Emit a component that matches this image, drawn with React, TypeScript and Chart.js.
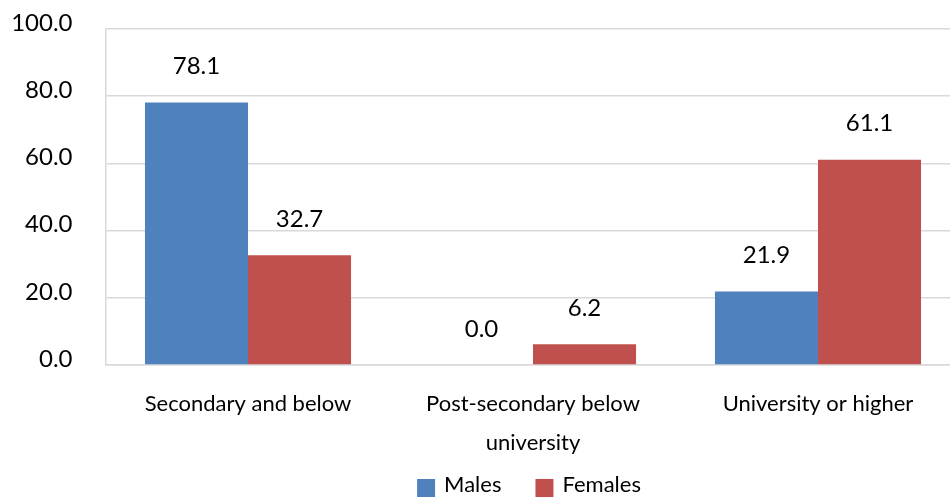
import React, { useEffect, useRef } from 'react';
import { Chart, registerables } from 'chart.js';

Chart.register(...registerables);

const categories: string[][] = [
  ['Secondary and below'],
  ['Post-secondary below', 'university'],
  ['University or higher'],
];
const seriesNames = ['Males', 'Females'];
const males = [78.1, 0.0, 21.9];
const females = [32.7, 6.2, 61.1];
const yMin = 0;
const yMax = 100;
const yStep = 20;

const FONT = 'Lato, "Noto Sans", sans-serif';
const BLUE = '#4F81BD';
const RED = '#C0504D';
const GRID = '#d9d9d9';

const valueLabels = {
  id: 'valueLabels',
  afterDatasetsDraw(chart: any) {
    const ctx = chart.ctx;
    ctx.save();
    ctx.font = `24px ${FONT}`;
    ctx.fillStyle = '#000';
    ctx.textAlign = 'center';
    ctx.textBaseline = 'middle';
    chart.data.datasets.forEach((ds: any, i: number) => {
      const meta = chart.getDatasetMeta(i);
      meta.data.forEach((bar: any, j: number) => {
        const v = ds.data[j] as number;
        ctx.fillText(v.toFixed(1), bar.x, bar.y - 36);
      });
    });
    ctx.restore();
  },
};

// Legend drawn below the axis labels, centred on the plot area
const bottomLegend = {
  id: 'bottomLegend',
  afterDraw(chart: any) {
    const ctx = chart.ctx;
    const area = chart.chartArea;
    const box = 18;
    const gap = 9;
    const itemGap = 34;
    ctx.save();
    ctx.font = `22px ${FONT}`;
    ctx.textBaseline = 'middle';
    ctx.textAlign = 'left';
    const items = chart.data.datasets.map((ds: any) => ({
      text: ds.label as string,
      color: ds.backgroundColor as string,
      w: box + gap + ctx.measureText(ds.label).width,
    }));
    const total =
      items.reduce((s: number, it: any) => s + it.w, 0) + itemGap * (items.length - 1);
    let x = (area.left + area.right) / 2 - total / 2 - 4;
    const textY = area.bottom + 120;
    const boxTop = area.bottom + 114;
    items.forEach((it: any) => {
      ctx.fillStyle = it.color;
      ctx.fillRect(x, boxTop, box, box);
      ctx.fillStyle = '#000';
      ctx.fillText(it.text, x + box + gap, textY);
      x += it.w + itemGap;
    });
    ctx.restore();
  },
};

export default function App() {
  const ref = useRef<HTMLCanvasElement | null>(null);

  useEffect(() => {
    if (!ref.current) return;
    const chart = new Chart(ref.current, {
      type: 'bar',
      data: {
        labels: categories,
        datasets: [
          {
            label: seriesNames[0],
            data: males,
            backgroundColor: BLUE,
            borderWidth: 0,
            categoryPercentage: 0.723,
            barPercentage: 1,
          },
          {
            label: seriesNames[1],
            data: females,
            backgroundColor: RED,
            borderWidth: 0,
            categoryPercentage: 0.723,
            barPercentage: 1,
          },
        ],
      },
      options: {
        responsive: false,
        animation: false,
        devicePixelRatio: 1,
        layout: { padding: { left: 0, right: 1.5, top: 29, bottom: 0 } },
        plugins: {
          legend: { display: false },
          tooltip: { enabled: false },
          title: { display: false },
        },
        scales: {
          x: {
            grid: { display: false, drawTicks: false },
            border: { display: true, color: GRID, width: 1.5 },
            ticks: {
              color: '#000',
              padding: 19.5,
              maxRotation: 0,
              autoSkip: false,
              font: { family: FONT, size: 22, lineHeight: 1.77 },
            },
            afterFit(scale: any) {
              scale.height = 132;
              scale.paddingLeft = 0;
              scale.paddingRight = 0;
            },
          },
          y: {
            min: yMin,
            max: yMax,
            grid: { color: GRID, lineWidth: 1.5, drawTicks: false },
            border: { display: true, color: GRID, width: 1.5 },
            ticks: {
              stepSize: yStep,
              color: '#000',
              padding: 33,
              labelOffset: -6,
              font: { family: FONT, size: 24 },
              callback: (v: any) => Number(v).toFixed(1),
            },
            afterFit(scale: any) {
              scale.width = 105.5;
              scale.paddingTop = 0;
              scale.paddingBottom = 0;
            },
          },
        },
      },
      plugins: [valueLabels, bottomLegend],
    });
    return () => chart.destroy();
  }, []);

  return (
    <div
      style={{
        position: 'absolute',
        left: 0,
        top: 0,
        width: 950,
        height: 497,
        overflow: 'hidden',
        background: '#fff',
      }}
    >
      <canvas ref={ref} width={962} height={497} style={{ display: 'block' }} />
    </div>
  );
}
